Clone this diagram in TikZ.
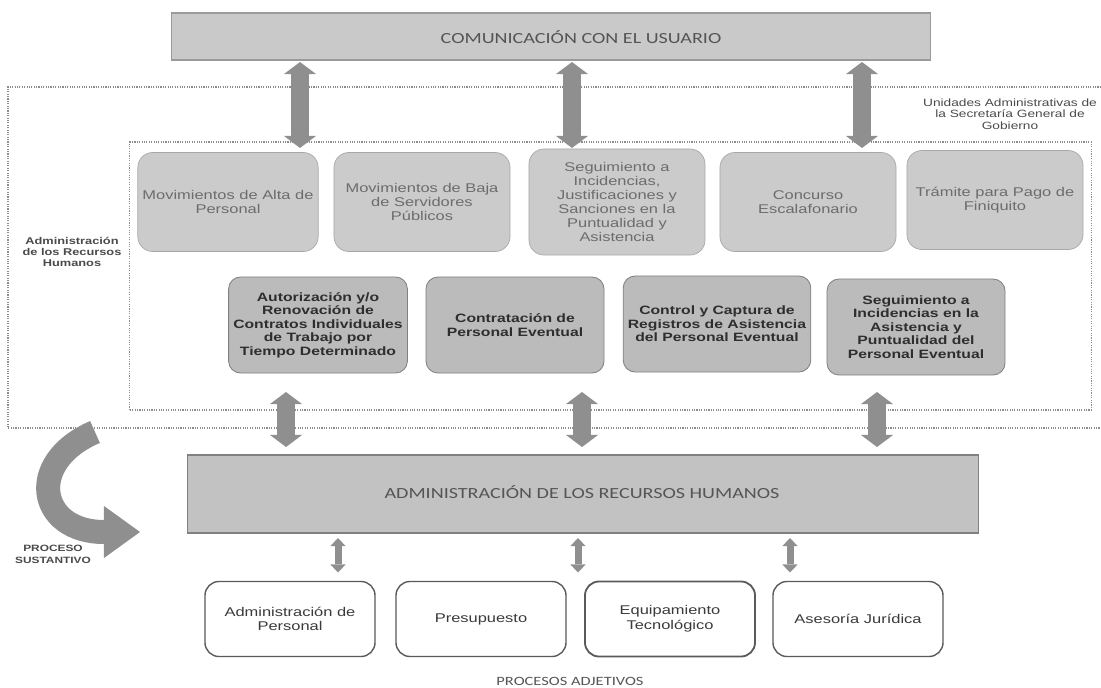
\documentclass[tikz,border=0pt]{standalone}
\usepackage{fontspec}
\setmainfont{Liberation Sans}
\newfontfamily\boxfont[FakeStretch=1.3]{Liberation Sans}
\newfontfamily\barfont[FakeStretch=1.3]{Carlito}
\usetikzlibrary{arrows.meta,calc}
\definecolor{barfill}{HTML}{C9C9C9}
\definecolor{barline}{HTML}{9A9A9A}
\definecolor{bartext}{HTML}{555555}
\definecolor{upfill}{HTML}{CBCBCB}
\definecolor{upline}{HTML}{A8A8A8}
\definecolor{uptext}{HTML}{6C6C6C}
\definecolor{lowfill}{HTML}{BBBBBB}
\definecolor{lowline}{HTML}{808080}
\definecolor{lowtext}{HTML}{2E2E2E}
\definecolor{adjline}{HTML}{5A5A5A}
\definecolor{adjtext}{HTML}{3A3A3A}
\definecolor{frameline}{HTML}{8C8C8C}
\definecolor{arrowgray}{HTML}{8F8F8F}
\definecolor{notetext}{HTML}{4A4A4A}
\begin{document}
\begin{tikzpicture}[x=0.025cm, y=-0.025cm,
  every node/.style={outer sep=0pt, align=center},
  titlebar/.style={draw=barline, fill=barfill, line width=0.8pt},
  bartitle/.style={font=\barfont\fontsize{11}{13}\selectfont, text=bartext},
  actbox/.style={draw=upline, fill=upfill, rounded corners=0.375cm, minimum width=4.4cm,
    minimum height=2.475cm, line width=0.5pt, font=\boxfont\fontsize{9}{10}\selectfont, text=uptext},
  evbox/.style={draw=lowline, fill=lowfill, rounded corners=0.3cm, minimum width=4.45cm,
    minimum height=2.4cm, line width=0.6pt, font=\boxfont\bfseries\fontsize{8.6}{9.6}\selectfont, text=lowtext},
  adjbox/.style={draw=adjline, fill=white, rounded corners=0.35cm, minimum width=4.25cm,
    minimum height=1.875cm, line width=1pt, font=\boxfont\fontsize{9}{10.5}\selectfont, text=adjtext},
  dotframe/.style={draw=frameline, line width=0.8pt, dash pattern=on 0.8pt off 0.9pt},
  bigarrow/.style={draw=arrowgray, line width=0.45cm,
    {Triangle[length=0.3cm,width=0.8cm,line width=0pt]}-{Triangle[length=0.3cm,width=0.8cm,line width=0pt]}},
  smallarrow/.style={draw=arrowgray, line width=0.175cm,
    {Triangle[length=0.2cm,width=0.38cm,line width=0pt]}-{Triangle[length=0.2cm,width=0.38cm,line width=0pt]}},
  sidenote/.style={font=\boxfont\fontsize{7.5}{8.2}\selectfont, text=notetext}]
  \useasboundingbox (0,0) rectangle (1101,687);

  % Top bar
  \node[titlebar, minimum width=18.95cm, minimum height=1.175cm] (comm) at (551,36.5) {};
  \node[bartitle] (commtxt) at (581,37) {COMUNICACIÓN CON EL USUARIO};

  % Dotted frames
  \draw[dotframe] (1101,87) -| (8,428) -- (1101,428);
  \node[dotframe, minimum width=24.025cm, minimum height=6.7cm] (inner) at (610.5,276) {};
  \node[sidenote] (units) at (1010,114) {Unidades Administrativas de\\la Secretaría General de\\Gobierno};
  \node[sidenote, font=\boxfont\bfseries\fontsize{7}{7.6}\selectfont] (area) at (72,252)
    {Administración\\de los Recursos\\Humanos};

  % First row of activities
  \node[actbox] (m1) at (228,202) {Movimientos de Alta de\\Personal};
  \node[actbox] (m2) at (422,202) {Movimientos de Baja\\de Servidores\\Públicos};
  \node[actbox, minimum height=2.65cm] (m3) at (617,202)
    {Seguimiento a\\Incidencias,\\Justificaciones y\\Sanciones en la\\Puntualidad y\\Asistencia};
  \node[actbox] (m4) at (808,202) {Concurso\\Escalafonario};
  \node[actbox] (m5) at (995,200) {Trámite para Pago de\\Finiquito};

  % Second row: personal eventual
  \node[evbox] (e1) at (318,325) {Autorización y/o\\Renovación de\\Contratos Individuales\\de Trabajo por\\Tiempo Determinado};
  \node[evbox] (e2) at (515,325) {Contratación de\\Personal Eventual};
  \node[evbox] (e3) at (717,324) {Control y Captura de\\Registros de Asistencia\\del Personal Eventual};
  \node[evbox] (e4) at (916,327) {Seguimiento a\\Incidencias en la\\Asistencia y\\Puntualidad del\\Personal Eventual};

  % Main process bar
  \node[titlebar, draw=lowline, fill=lowfill!90!white, minimum width=19.75cm, minimum height=1.95cm] (admin)
    at (583,494) {};
  \node[bartitle] (admintxt) at (582,492) {ADMINISTRACIÓN DE LOS RECURSOS HUMANOS};

  % Support processes
  \node[adjbox] (p1) at (290,619) {Administración de\\Personal};
  \node[adjbox] (p2) at (481,619) {Presupuesto};
  \node[adjbox, line width=1.3pt] (p3) at (670,619) {Equipamiento\\Tecnológico};
  \node[adjbox] (p4) at (858,619) {Asesoría Jurídica};
  \node[bartitle, font=\barfont\fontsize{9}{10}\selectfont] (adjtxt) at (570,681) {PROCESOS ADJETIVOS};

  % Arrows
  \foreach \x [count=\i] in {300,572,862}{
    \coordinate (u\i) at (\x,0);
    \draw[bigarrow] ($(comm.south -| u\i)+(0,2)$) -- ($(inner.north -| u\i)+(0,6)$);
  }
  \foreach \x [count=\i] in {286,582,877}{
    \coordinate (l\i) at (\x,0);
    \draw[bigarrow] ($(inner.south -| l\i)+(0,-18)$) -- ($(admin.north -| l\i)+(0,-8)$);
  }
  \foreach \x [count=\i] in {338,578,790}{
    \coordinate (s\i) at (\x,0);
    \draw[smallarrow] ($(admin.south -| s\i)+(0,5)$) -- ($(p1.north -| s\i)+(0,-9)$);
  }

  % Curved arrow
  \draw[draw=arrowgray, line width=0.6cm, -{Triangle[length=0.9cm,width=1.3cm,line width=0pt]}]
    (95,432) .. controls (25,462) and (38,532) .. (140,532);
  \node[sidenote, font=\boxfont\bfseries\fontsize{6.5}{8.5}\selectfont] (core) at (53,554) {PROCESO\\SUSTANTIVO};
\end{tikzpicture}
\end{document}
